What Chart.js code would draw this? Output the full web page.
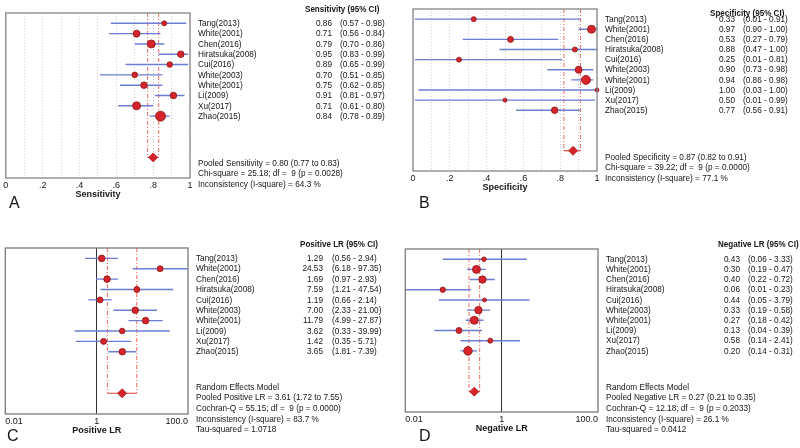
<!DOCTYPE html>
<html>
<head>
<meta charset="utf-8">
<script src="https://cdn.jsdelivr.net/npm/chart.js@4.4.1/dist/chart.umd.min.js"></script>
<style>
html, body { margin: 0; padding: 0; background: #fff; }
#wrap { position: relative; width: 800px; height: 448px; }
#wrap canvas { position: absolute; }
</style>
</head>
<body>
<div id="wrap">
  <canvas id="panelA" width="400" height="224" style="left:0;top:0"></canvas>
  <canvas id="panelB" width="400" height="224" style="left:400px;top:0"></canvas>
  <canvas id="panelC" width="400" height="224" style="left:0;top:224px"></canvas>
  <canvas id="panelD" width="400" height="224" style="left:400px;top:224px"></canvas>
</div>
<script>
// studies, top to bottom
var studies = ["Tang(2013)", "White(2001)", "Chen(2016)", "Hiratsuka(2008)", "Cui(2016)",
               "White(2003)", "White(2001)", "Li(2009)", "Xu(2017)", "Zhao(2015)"];

// sensitivity
var sensEst = [0.86, 0.71, 0.79, 0.95, 0.89, 0.70, 0.75, 0.91, 0.71, 0.84];
var sensLo  = [0.57, 0.56, 0.70, 0.83, 0.65, 0.51, 0.62, 0.81, 0.61, 0.78];
var sensHi  = [0.98, 0.84, 0.86, 0.99, 0.99, 0.85, 0.85, 0.97, 0.80, 0.89];
var sensWeight = [2.5, 3.5, 4, 3.3, 2.8, 2.8, 3.3, 3.3, 4, 5];
var sensPooled = [0.80, 0.77, 0.83];
var sensStats = ["Pooled Sensitivity = 0.80 (0.77 to 0.83)",
                 "Chi-square = 25.18; df =  9 (p = 0.0028)",
                 "Inconsistency (I-square) = 64.3 %"];

// specificity
var specEst = [0.33, 0.97, 0.53, 0.88, 0.25, 0.90, 0.94, 1.00, 0.50, 0.77];
var specLo  = [0.01, 0.90, 0.27, 0.47, 0.01, 0.73, 0.86, 0.03, 0.01, 0.56];
var specHi  = [0.91, 1.00, 0.79, 1.00, 0.81, 0.98, 0.98, 1.00, 0.99, 0.91];
var specWeight = [2.5, 4, 3, 2.5, 2.5, 3.5, 4.5, 2, 2, 3.3];
var specPooled = [0.87, 0.82, 0.91];
var specStats = ["Pooled Specificity = 0.87 (0.82 to 0.91)",
                 "Chi-square = 39.22; df =  9 (p = 0.0000)",
                 "Inconsistency (I-square) = 77.1 %"];

// positive likelihood ratio
var plrEst = [1.29, 24.53, 1.69, 7.59, 1.19, 7.00, 11.79, 3.62, 1.42, 3.65];
var plrLo  = [0.56, 6.18, 0.97, 1.21, 0.66, 2.33, 4.99, 0.33, 0.35, 1.81];
var plrHi  = [2.94, 97.35, 2.93, 47.54, 2.14, 21.00, 27.87, 39.99, 5.71, 7.39];
var plrWeight = [3.3, 3, 3.3, 3, 3, 3.3, 3.3, 2.8, 3, 3.3];
var plrPooled = [3.61, 1.72, 7.55];
var plrStats = ["Random Effects Model",
                "Pooled Positive LR = 3.61 (1.72 to 7.55)",
                "Cochran-Q = 55.15; df =  9 (p = 0.0000)",
                "Inconsistency (I-square) = 83.7 %",
                "Tau-squared = 1.0718"];

// negative likelihood ratio
var nlrEst = [0.43, 0.30, 0.40, 0.06, 0.44, 0.33, 0.27, 0.13, 0.58, 0.20];
var nlrLo  = [0.06, 0.19, 0.22, 0.01, 0.05, 0.19, 0.18, 0.04, 0.14, 0.14];
var nlrHi  = [3.33, 0.47, 0.72, 0.23, 3.79, 0.58, 0.42, 0.39, 2.41, 0.31];
var nlrWeight = [2.3, 4, 3.7, 2.7, 2, 3.7, 4, 3, 2.5, 4.3];
var nlrPooled = [0.27, 0.21, 0.35];
var nlrStats = ["Random Effects Model",
                "Pooled Negative LR = 0.27 (0.21 to 0.35)",
                "Cochran-Q = 12.18; df =  9 (p = 0.2033)",
                "Inconsistency (I-square) = 26.1 %",
                "Tau-squared = 0.0412"];

// axis ticks
var propTicks = [0, 0.2, 0.4, 0.6, 0.8, 1];
var propTickLabels = ["0", ".2", ".4", ".6", ".8", "1"];
var lrTicks = [0.01, 1, 100];
var lrTickLabels = ["0.01", "1", "100.0"];

var POOLED_ROW = 13;
var FONT = "'Liberation Sans', Arial, sans-serif";
var TEXT = "#151515";
var NARROW = 0.84;   // the table text is set in a condensed face

// condensed text helper
function narrowText(ctx, str, x, y) {
  ctx.save();
  ctx.translate(x, y);
  ctx.scale(NARROW, 1);
  ctx.fillText(str, 0, 0);
  ctx.restore();
}

// draws frame, study table, stats and panel letter
var forestText = {
  id: 'forestText',
  afterDraw: function (chart, args, o) {
    var ctx = chart.ctx, a = chart.chartArea, ys = chart.scales.y;
    ctx.save();
    ctx.strokeStyle = o.frame;
    ctx.lineWidth = 1.3;
    ctx.strokeRect(a.left, a.top, a.right - a.left, a.bottom - a.top);

    ctx.fillStyle = TEXT;
    ctx.textBaseline = 'middle';
    ctx.font = "bold 9.6px " + FONT;
    ctx.textAlign = 'left';
    narrowText(ctx, o.header, a.right + o.headerDx, o.headerY);

    ctx.font = "9.8px " + FONT;
    for (var i = 0; i < studies.length; i++) {
      var y = ys.getPixelForValue(i);
      ctx.textAlign = 'left';
      narrowText(ctx, studies[i], a.right + o.nameDx, y);
      ctx.textAlign = 'right';
      narrowText(ctx, o.est[i].toFixed(2), a.right + o.valDx, y);
      ctx.textAlign = 'left';
      narrowText(ctx, "(" + o.lo[i].toFixed(2) + " - " + o.hi[i].toFixed(2) + ")", a.right + o.ciDx, y);
    }
    ctx.textAlign = 'left';
    for (var k = 0; k < o.stats.length; k++) {
      narrowText(ctx, o.stats[k], a.right + o.nameDx, a.bottom + o.statsDy + k * 10.6);
    }
    ctx.font = "16px " + FONT;
    ctx.fillText(o.letter, o.letterX, o.letterY);
    ctx.restore();
  }
};

function makePanel(id, est, lo, hi, weight, pooled, stats, axis, look) {
  var ciPts = [], dashPts = [], estPts = [];
  for (var i = 0; i < est.length; i++) {
    ciPts.push({x: lo[i], y: i}, {x: hi[i], y: i}, {x: NaN, y: NaN});
    estPts.push({x: est[i], y: i});
  }
  dashPts.push({x: pooled[1], y: -1}, {x: pooled[1], y: POOLED_ROW}, {x: NaN, y: NaN},
               {x: pooled[2], y: -1}, {x: pooled[2], y: POOLED_ROW});

  var xScale;
  if (axis.log) {
    xScale = {
      type: 'logarithmic', min: lrTicks[0], max: lrTicks[lrTicks.length - 1],
      afterBuildTicks: function (s) { s.ticks = lrTicks.map(function (v) { return {value: v}; }); },
      ticks: {
        align: 'inner', autoSkip: false, maxRotation: 0, padding: 2, color: TEXT,
        font: {family: FONT, size: 9},
        callback: function (v, i) { return lrTickLabels[i]; }
      },
      grid: {
        drawTicks: false, lineWidth: 1,
        color: function (c) { return c.tick && c.tick.value === 1 ? '#333' : 'rgba(0,0,0,0)'; }
      },
      border: {display: false}
    };
  } else {
    xScale = {
      type: 'linear', min: 0, max: 1,
      ticks: {
        stepSize: 0.1, autoSkip: false, maxRotation: 0, padding: 2, color: TEXT,
        font: {family: FONT, size: 9},
        callback: function (v) {
          for (var j = 0; j < propTicks.length; j++) {
            if (Math.abs(propTicks[j] - v) < 1e-6) return propTickLabels[j];
          }
          return '';
        }
      },
      grid: {drawTicks: false, color: '#d0d0d0', lineWidth: 1},
      border: {display: false, dash: [1, 2]}
    };
  }
  xScale.title = {display: true, text: axis.title, color: TEXT,
                  font: {family: FONT, size: 9, weight: 'bold'}, padding: {top: 0, bottom: 2}};
  xScale.afterFit = function (s) { s.height = 24; };

  return new Chart(document.getElementById(id), {
    type: 'scatter',
    data: {
      datasets: [
        {data: estPts, pointRadius: weight, pointBackgroundColor: '#d5242b',
         pointBorderColor: '#8a1717', pointBorderWidth: 0.8, clip: false},
        {data: [{x: pooled[0], y: POOLED_ROW}], pointStyle: 'rectRot', pointRadius: 4.5,
         pointBackgroundColor: '#d5242b', pointBorderColor: '#b01a1a', pointBorderWidth: 0.8},
        {data: [{x: pooled[1], y: POOLED_ROW}, {x: pooled[2], y: POOLED_ROW}], showLine: true,
         borderColor: '#e0403a', borderWidth: 1.2, pointRadius: 0},
        {data: ciPts, showLine: true, borderColor: '#6c7ed4', borderWidth: 1.4, pointRadius: 0},
        {data: dashPts, showLine: true, borderColor: '#ee6a60', borderWidth: 1,
         borderDash: [4, 2, 1, 2], pointRadius: 0}
      ]
    },
    options: {
      responsive: false, animation: false, events: [],
      layout: {padding: look.padding},
      plugins: {
        legend: {display: false}, tooltip: {enabled: false},
        forestText: {
          frame: look.frame, header: axis.header, headerDx: look.headerDx, headerY: look.headerY,
          nameDx: 8, valDx: look.valDx, ciDx: look.ciDx, est: est, lo: lo, hi: hi,
          stats: stats, statsDy: look.statsDy, letter: look.letter, letterX: look.letterX, letterY: look.letterY
        }
      },
      scales: {
        x: xScale,
        y: {type: 'linear', reverse: true, min: -1, max: 15, display: false}
      }
    },
    plugins: [forestText]
  });
}

makePanel('panelA', sensEst, sensLo, sensHi, sensWeight, sensPooled, sensStats,
  {log: false, title: 'Sensitivity', header: 'Sensitivity (95% CI)'},
  {padding: {left: 3, right: 210, top: 13, bottom: 22}, frame: '#858585',
   headerDx: 115, headerY: 9, valDx: 142, ciDx: 150, statsDy: -15,
   letter: 'A', letterX: 9, letterY: 204});

makePanel('panelB', specEst, specLo, specHi, specWeight, specPooled, specStats,
  {log: false, title: 'Specificity', header: 'Specificity (95% CI)'},
  {padding: {left: 13, right: 203, top: 9, bottom: 29}, frame: '#858585',
   headerDx: 113, headerY: 13, valDx: 138, ciDx: 146, statsDy: -14,
   letter: 'B', letterX: 19, letterY: 204});

makePanel('panelC', plrEst, plrLo, plrHi, plrWeight, plrPooled, plrStats,
  {log: true, title: 'Positive LR', header: 'Positive LR (95% CI)'},
  {padding: {left: 5, right: 212, top: 24, bottom: 10}, frame: '#7a7a7a',
   headerDx: 112, headerY: 20, valDx: 135, ciDx: 144, statsDy: -27,
   letter: 'C', letterX: 7, letterY: 213});

makePanel('panelD', nlrEst, nlrLo, nlrHi, nlrWeight, nlrPooled, nlrStats,
  {log: true, title: 'Negative LR', header: 'Negative LR (95% CI)'},
  {padding: {left: 4, right: 202, top: 25, bottom: 12}, frame: '#7a7a7a',
   headerDx: 120, headerY: 20, valDx: 142, ciDx: 150, statsDy: -25,
   letter: 'D', letterX: 19, letterY: 213});
</script>
</body>
</html>
